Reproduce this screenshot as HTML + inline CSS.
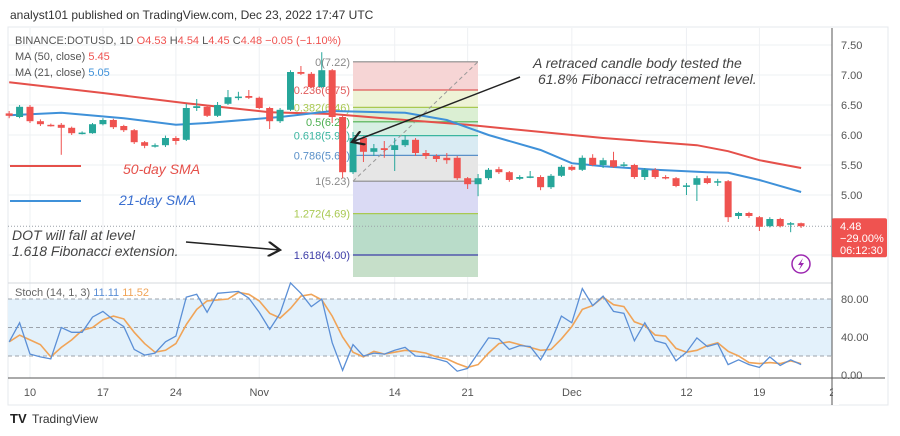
<!DOCTYPE html>
<html><head><meta charset="utf-8">
<style>
html,body{margin:0;padding:0;background:#fff;}
body{width:900px;height:436px;overflow:hidden;font-family:"Liberation Sans",sans-serif;}
svg{display:block;}
</style></head>
<body>
<svg id="chart" width="900" height="436" viewBox="0 0 900 436" xmlns="http://www.w3.org/2000/svg" font-family="Liberation Sans, sans-serif">
<rect x="0" y="0" width="900" height="436" fill="#fff"/>
<text x="10" y="19" font-size="12" fill="#333">analyst101 published on TradingView.com, Dec 23, 2022 17:47 UTC</text>
<rect x="8" y="27" width="880" height="378" fill="none" stroke="#e6e8ec" stroke-width="1"/>
<g id="grid"></g>
<g id="fib"></g>
<g id="mas"></g>
<g id="candles"></g>
<g id="stoch"></g>
<g id="axes"></g>
<g id="annot"></g>
</svg>
<script>
// ---- data ----
const candleDays = [-2,-1,0,1,2,3,4,5,6,7,8,9,10,11,12,13,14,15,16,17,18,19,20,21,22,23,24,25,26,27,28,29,30,31,32,33,34,35,36,37,38,39,40,41,42,43,44,45,46,47,48,49,50,51,52,53,54,55,56,57,58,59,60,61,62,63,64,65,66,67,68,69,70,71,72,73,74];
const opens  = [6.36,6.30,6.47,6.23,6.17,6.17,6.12,6.03,6.03,6.18,6.25,6.15,6.08,5.88,5.82,5.83,5.95,5.92,6.45,6.47,6.32,6.52,6.63,6.65,6.62,6.45,6.23,6.42,7.05,7.02,6.80,7.08,6.30,5.38,5.95,5.72,5.78,5.75,5.83,5.92,5.70,5.65,5.62,5.62,5.28,5.18,5.28,5.43,5.38,5.27,5.30,5.30,5.13,5.32,5.47,5.42,5.62,5.50,5.58,5.50,5.50,5.30,5.42,5.30,5.28,5.15,5.17,5.28,5.22,5.23,4.65,4.70,4.63,4.48,4.60,4.51,4.53];
const closes = [6.32,6.47,6.23,6.18,6.16,6.12,6.03,6.04,6.18,6.25,6.13,6.08,5.88,5.82,5.83,5.95,5.90,6.45,6.48,6.32,6.50,6.63,6.64,6.62,6.45,6.23,6.42,7.05,7.02,6.80,7.08,6.30,5.38,5.95,5.72,5.78,5.75,5.83,5.92,5.70,5.65,5.60,5.58,5.28,5.18,5.28,5.42,5.38,5.25,5.30,5.31,5.13,5.32,5.47,5.42,5.62,5.50,5.58,5.47,5.51,5.30,5.42,5.30,5.28,5.15,5.16,5.28,5.20,5.23,4.63,4.70,4.65,4.47,4.60,4.48,4.53,4.48];
const highs  = [6.40,6.50,6.50,6.26,6.19,6.20,6.14,6.06,6.20,6.28,6.27,6.17,6.10,5.90,5.86,5.99,5.98,6.52,6.60,6.50,6.55,6.75,6.72,6.75,6.64,6.47,6.45,7.08,7.15,7.05,7.38,7.10,6.32,6.05,5.98,5.85,5.90,5.95,6.00,5.95,5.75,5.68,5.70,5.65,5.30,5.35,5.45,5.47,5.40,5.33,5.40,5.33,5.35,5.50,5.50,5.66,5.68,5.62,5.72,5.55,5.52,5.45,5.45,5.33,5.30,5.20,5.32,5.32,5.27,5.25,4.72,4.72,4.65,4.63,4.62,4.55,4.54];
const lows   = [6.28,6.28,6.20,6.15,6.14,5.67,6.00,6.01,6.02,6.16,6.10,6.05,5.85,5.78,5.79,5.80,5.84,5.90,6.40,6.30,6.30,6.50,6.58,6.60,6.43,6.10,6.20,6.40,7.00,6.78,6.78,6.20,5.28,5.35,5.55,5.65,5.62,5.40,5.80,5.65,5.60,5.55,5.52,5.25,5.10,4.98,5.25,5.35,5.22,5.25,5.28,5.08,5.10,5.30,5.40,5.40,5.48,5.45,5.45,5.47,5.27,5.25,5.27,5.26,5.13,5.00,4.90,5.18,5.15,4.55,4.60,4.62,4.40,4.46,4.46,4.38,4.45];
const ma50Days = [-2,7,15,23,29,36,42,55,64,67,70,74];
const ma50Vals = [6.88,6.70,6.53,6.38,6.35,6.25,6.17,5.95,5.83,5.73,5.58,5.45];
const ma21Days = [-2,3,9,14,17,24,29,36,40,44,49,52,55,60,65,67,70,74];
const ma21Vals = [6.33,6.37,6.28,6.17,6.20,6.30,6.40,6.37,6.25,6.00,5.75,5.53,5.48,5.42,5.38,5.37,5.25,5.05];
const stochK = [35,55,22,19,17,50,45,45,61,67,58,51,27,21,23,35,41,82,85,66,86,87,88,81,66,48,65,97,86,72,80,34,5,32,20,23,22,26,29,20,19,17,14,4,7,23,39,38,27,31,30,16,35,62,55,91,73,83,67,65,36,55,36,33,15,24,39,30,33,11,16,11,8,19,10,16,11];
const stochD = [35,42,37,32,19,29,37,47,50,58,62,59,45,33,24,26,33,53,69,78,79,80,87,85,78,65,60,70,83,85,79,62,40,24,19,25,22,24,26,25,23,19,17,12,8,11,23,33,35,32,29,26,27,38,51,69,73,82,74,72,56,52,42,41,28,24,26,31,34,25,20,13,12,13,12,15,12];
const priceTicks = [7.5,7.0,6.5,6.0,5.5,5.0];
const stochTicks = [80,40,0];
const dateLabels = ["10","17","24","Nov","14","21","Dec","12","19","2"];
const dateDays = [0,7,14,22,35,42,52,63,70,77];
const fibRatios = ["0","0.236","0.382","0.5","0.618","0.786","1","1.272","1.618"];
const fibPrices = [7.22,6.75,6.46,6.22,5.99,5.66,5.23,4.69,4.00];
const lastPrice = 4.48;

// ---- axes ----
const X = d => 30 + d*10.42;
const Y = p => 195 - (p-5)*60;
const SY = v => 375 - v*0.95;
const NS='http://www.w3.org/2000/svg';
function mk(parent,tag,attrs,text){const e=document.createElementNS(NS,tag);for(const k in attrs)e.setAttribute(k,attrs[k]);if(text!==undefined)e.textContent=text;document.getElementById(parent).appendChild(e);return e;}
const UP='#26a69a', DN='#ef5350';

// grid
for(let i=0;i<dateDays.length;i++){const x=X(dateDays[i]);if(x>830)continue;
 let g=mk('grid','line',{x1:x,y1:28,x2:x,y2:378,stroke:'#eef0f3'});
 
 }
for(let i=0;i<priceTicks.length;i++){const y=Y(priceTicks[i]);
 let g=mk('grid','line',{x1:8,y1:y,x2:832,y2:y,stroke:'#eef0f3'});
 
 }
mk('grid','line',{x1:8,y1:Y(4),x2:832,y2:Y(4),stroke:'#eef0f3'});

// fib
const fibFills=['#f6d5d5','#eef3d6','#dbefd3','#d7efe3','#d9ebf3','#e6e6e6','#dadaf4','#b9dcc9'];
const fibLines=['#8a8a8a','#e05a5a','#a9c952','#4caf50','#3bb5a0','#5a90c8','#8a8a8a','#a9c952','#3d3da8'];
const fx1=353, fx2=478;
for(let i=0;i<fibPrices.length-1;i++){
 let r=mk('fib','rect',{x:fx1,y:Y(fibPrices[i]),width:fx2-fx1,height:Y(fibPrices[i+1])-Y(fibPrices[i]),fill:fibFills[i]});
 
 }
{let r=mk('fib','rect',{x:fx1,y:Y(fibPrices[8]),width:fx2-fx1,height:277-Y(fibPrices[8]),fill:'#c6dfc9'});
 
 }
for(let i=0;i<fibPrices.length;i++){const y=Y(fibPrices[i]);
 let l=mk('fib','line',{x1:fx1,y1:y,x2:fx2,y2:y,stroke:fibLines[i],'stroke-width':1.2});
 
 
 let t=mk('fib','text',{x:fx1-3,y:y+4,'text-anchor':'end','font-size':11,fill:fibLines[i]},fibRatios[i]+'('+fibPrices[i].toFixed(2)+')');
 
 }
{let l=mk('fib','line',{x1:fx1,y1:Y(fibPrices[6]),x2:fx2,y2:Y(fibPrices[0]),stroke:'#999','stroke-dasharray':'4 3'});
 
 }
// last price line
{let l=mk('fib','line',{x1:8,y1:Y(lastPrice),x2:832,y2:Y(lastPrice),stroke:'#9aa0a8','stroke-dasharray':'1 2'});
 
 }

// MAs
function maPath(days,vals){return days.map((d,i)=>(i?'L':'M')+X(d).toFixed(1)+' '+Y(vals[i]).toFixed(1)).join(' ');}
{let p=mk('mas','path',{d:maPath(ma50Days,ma50Vals),fill:'none',stroke:'#e5504a','stroke-width':2});
 
 
 let q=mk('mas','path',{d:maPath(ma21Days,ma21Vals),fill:'none',stroke:'#3f91d9','stroke-width':2});
 
 }

// candles
for(let i=0;i<candleDays.length;i++){
 const x=X(candleDays[i]), o=opens[i], c=closes[i], col=c>=o?UP:DN;
 const g=mk('candles','g',{});
 
 
 const w=document.createElementNS(NS,'line');
 w.setAttribute('x1',x);w.setAttribute('x2',x);w.setAttribute('y1',Y(highs[i]));w.setAttribute('y2',Y(lows[i]));w.setAttribute('stroke',col);w.setAttribute('stroke-width',1);
 g.appendChild(w);
 const top=Math.min(Y(o),Y(c)), h=Math.max(1.5,Math.abs(Y(o)-Y(c)));
 const b=document.createElementNS(NS,'rect');
 b.setAttribute('x',x-3.5);b.setAttribute('y',top);b.setAttribute('width',7);b.setAttribute('height',h);b.setAttribute('fill',col);
 g.appendChild(b);
}

// stoch panel
mk('stoch','line',{x1:8,y1:283,x2:832,y2:283,stroke:'#d6d9de'});
{let r=mk('stoch','rect',{x:8,y:SY(80),width:824,height:SY(20)-SY(80),fill:'#e3f1fb'});
 
 }
[80,50,20].forEach(v=>{mk('stoch','line',{x1:8,y1:SY(v),x2:832,y2:SY(v),stroke:'#9ca3ab','stroke-dasharray':'4 3'});});
function sPath(vals){return vals.map((v,i)=>(i?'L':'M')+X(candleDays[i]).toFixed(1)+' '+SY(v).toFixed(1)).join(' ');}
{let d=mk('stoch','path',{d:sPath(stochD),fill:'none',stroke:'#f0a458','stroke-width':1.6});
 
 
 let k=mk('stoch','path',{d:sPath(stochK),fill:'none',stroke:'#5b8fd6','stroke-width':1.3});
 
 }
{let t=mk('stoch','text',{x:15,y:296,'font-size':11,fill:'#666'});
 
 
 t.innerHTML='Stoch (14, 1, 3) <tspan fill="#5b8fd6">'+stochK[stochK.length-1].toFixed(2).replace('11.00','11.11')+'</tspan> <tspan fill="#f0a458">11.52</tspan>';}

// axes
mk('axes','line',{x1:832,y1:28,x2:832,y2:405,stroke:'#555'});
mk('axes','line',{x1:8,y1:378,x2:885,y2:378,stroke:'#555'});
for(let i=0;i<priceTicks.length;i++){
 let t=mk('axes','text',{x:841,y:Y(priceTicks[i])+4,'font-size':11,fill:'#555'},priceTicks[i].toFixed(2));
 
 }
for(let i=0;i<stochTicks.length;i++){
 let t=mk('axes','text',{x:841,y:SY(stochTicks[i])+4,'font-size':11,fill:'#555'},stochTicks[i].toFixed(2));
 
 }
for(let i=0;i<dateLabels.length;i++){
 let t=mk('axes','text',{x:X(dateDays[i]),y:396,'font-size':11,fill:'#555','text-anchor':'middle'},dateLabels[i]);
 
 }
mk('axes','rect',{x:833,y:379,width:6,height:26,fill:'#fff'});
// price tag
{let r=mk('axes','rect',{x:832,y:Y(lastPrice)-8,width:55,height:39,fill:'#ef5350',rx:2});
 
 
 mk('axes','text',{x:840,y:Y(lastPrice)+4,'font-size':11,fill:'#fff'},lastPrice.toFixed(2));
 mk('axes','text',{x:840,y:Y(lastPrice)+16,'font-size':11,fill:'#fff'},'\u221229.00%');
 mk('axes','text',{x:840,y:Y(lastPrice)+28,'font-size':11,fill:'#fff'},'06:12:30');}
</script>
<svg style="position:absolute;left:0;top:0" width="900" height="436" xmlns="http://www.w3.org/2000/svg" font-family="Liberation Sans, sans-serif">
<defs><marker id="ah" markerWidth="10" markerHeight="10" refX="8" refY="5" orient="auto"><path d="M0,0 L8,5 L0,10" fill="none" stroke="#222" stroke-width="1.5"/></marker></defs>
<g font-size="11">
<text x="15" y="44" fill="#555">BINANCE:DOTUSD, 1D <tspan fill="#ef5350">O</tspan><tspan fill="#ef5350">4.53</tspan> <tspan fill="#555">H</tspan><tspan fill="#ef5350">4.54</tspan> <tspan fill="#555">L</tspan><tspan fill="#ef5350">4.45</tspan> <tspan fill="#555">C</tspan><tspan fill="#ef5350">4.48</tspan> <tspan fill="#ef5350">−0.05 (−1.10%)</tspan></text>
<text x="15" y="60" fill="#555">MA (50, close) <tspan fill="#ef5350">5.45</tspan></text>
<text x="15" y="76" fill="#555">MA (21, close) <tspan fill="#3f91d9">5.05</tspan></text>
</g>
<g font-size="14" font-style="italic" fill="#444">
<text x="533" y="68">A retraced candle body tested the</text>
<text x="538" y="84">61.8% Fibonacci retracement level.</text>
</g>
<line x1="520" y1="77" x2="352" y2="142" stroke="#222" stroke-width="1.5" marker-end="url(#ah)"/>
<line x1="10" y1="166" x2="81" y2="166" stroke="#e5504a" stroke-width="2"/>
<text x="123" y="174" font-size="14" font-style="italic" fill="#e5504a">50-day SMA</text>
<line x1="10" y1="201" x2="81" y2="201" stroke="#3f91d9" stroke-width="2"/>
<text x="119" y="205" font-size="14" font-style="italic" fill="#3a6fd0">21-day SMA</text>
<g font-size="14" font-style="italic" fill="#444">
<text x="12" y="240">DOT  will fall  at level</text>
<text x="12" y="256">1.618 Fibonacci extension.</text>
</g>
<line x1="186" y1="242" x2="280" y2="250" stroke="#222" stroke-width="1.5" marker-end="url(#ah)"/>
<g>
<circle cx="801" cy="264" r="9" fill="#fff" stroke="#9c27b0" stroke-width="1.5"/>
<path d="M803,258 L798,265 L801,265 L799,270 L804,263 L801,263 Z" fill="#9c27b0"/>
</g>
<g>
<text x="10" y="423" font-size="13" font-weight="bold" fill="#222">TV</text>
<text x="32" y="423" font-size="12" fill="#333">TradingView</text>
</g>
</svg>
</body></html>
